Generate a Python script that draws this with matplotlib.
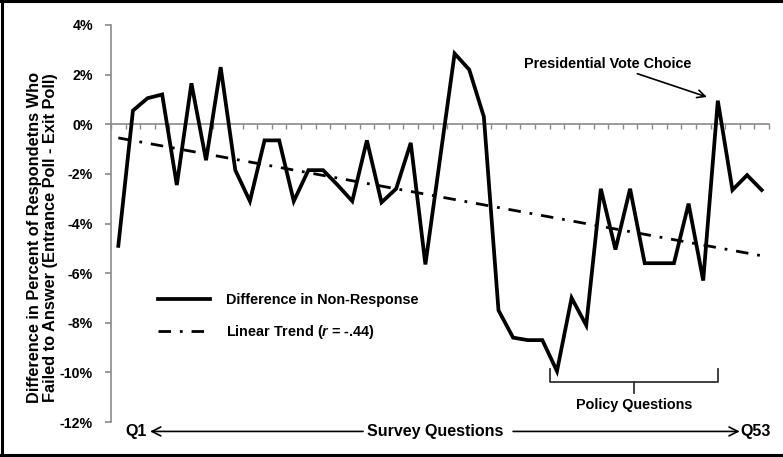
import matplotlib
matplotlib.use("Agg")
import matplotlib.pyplot as plt
from matplotlib.lines import Line2D
import numpy as np

# ---- DATA ----
# difference in non-response (entrance poll - exit poll), in percent, per survey question
nonresponse_diff = [
    -4.9, 0.55, 1.05, 1.2, -2.45, 1.65, -1.45, 2.3, -1.85, -3.1,
    -0.65, -0.65, -3.1, -1.85, -1.85, -2.45, -3.1, -0.65, -3.15, -2.6,
    -0.75, -5.65, -1.4, 2.85, 2.2, 0.3, -7.5, -8.6, -8.7, -8.7,
    -9.95, -7.0, -8.1, -2.6, -5.05, -2.6, -5.6, -5.6, -5.6, -3.2,
    -6.3, 0.95, -2.65, -2.05, -2.65,
]
trend_ends = [-0.55, -5.3]          # linear trend at first / last question
y_ticks = [-12, -10, -8, -6, -4, -2, 0, 2, 4]
policy_range = [29.5, 41.0]         # bracket span, in question index
vote_choice_idx = 41

plt.rcParams["font.family"] = ["Liberation Sans", "DejaVu Sans"]
plt.rcParams["font.weight"] = "bold"
plt.rcParams["mathtext.fontset"] = "custom"
plt.rcParams["mathtext.it"] = "Liberation Sans:italic:bold"
plt.rcParams["mathtext.rm"] = "Liberation Sans:bold"

GRAY = "#8a8a8a"
FS = 10.4

fig = plt.figure(figsize=(7.83, 4.57), dpi=100)
ax = fig.add_axes([111 / 783, 1 - 422 / 457, (769 - 111) / 783, (422 - 25) / 457])

n = len(nonresponse_diff)
x = np.arange(n)
ax.plot(x, nonresponse_diff, color="black", lw=2.7, solid_joinstyle="miter", zorder=3)
trend_dashes = (0, (4.5, 3.2, 1, 3.2))
ax.plot([0, n - 1], trend_ends, color="black", lw=2, linestyle=trend_dashes, zorder=2)

ax.set_xlim(-0.5, n - 0.5)
ax.set_ylim(-12, 4)

# category axis sits on the zero line
for s in ("top", "right"):
    ax.spines[s].set_visible(False)
ax.spines["bottom"].set_position(("data", 0))
ax.spines["bottom"].set_color(GRAY)
ax.spines["bottom"].set_linewidth(1.2)
ax.spines["left"].set_color(GRAY)
ax.spines["left"].set_linewidth(1.2)
ax.set_xticks(np.arange(n + 1) - 0.5)
ax.set_xticklabels([])
ax.tick_params(axis="x", direction="out", length=3.5, color=GRAY, width=1)

ax.set_yticks(y_ticks)
ax.set_yticklabels([f"{t}%" for t in y_ticks], fontsize=10.2, fontweight="bold")
ax.tick_params(axis="y", direction="out", length=4, color=GRAY, width=1.2, pad=9)

ax.set_ylabel("Difference in Percent of Respondetns Who\nFailed to Answer (Entrance Poll - Exit Poll)",
              fontsize=11.8, fontweight="bold", linespacing=1.05)
ax.yaxis.set_label_coords(-0.081, 0.465)

# legend
handles = [
    Line2D([], [], color="black", lw=2.7),
    Line2D([], [], color="black", lw=2, linestyle=trend_dashes),
]
labels = ["Difference in Non-Response", "Linear Trend ($\\mathit{r}$ = -.44)"]
ax.legend(handles, labels, loc="upper left", bbox_to_anchor=(0.072, 0.324),
          frameon=False, handlelength=3.6, handletextpad=1.1,
          labelspacing=1.1, borderpad=0, borderaxespad=0,
          prop={"weight": "bold", "size": FS})

# presidential vote choice callout
ax.annotate("Presidential Vote Choice", xy=(vote_choice_idx - 0.75, 1.1),
            xytext=(33.5, 2.15), fontsize=FS, fontweight="bold", ha="center", va="bottom",
            arrowprops=dict(arrowstyle="->", color="black", lw=1.2,
                            shrinkA=0, shrinkB=0, mutation_scale=14))

# policy questions bracket
p0, p1 = policy_range
pm = (p0 + p1) / 2
ax.plot([p0, p0, p1, p1], [-9.85, -10.4, -10.4, -9.85], color="#333333", lw=1.3,
        clip_on=False)
ax.plot([pm, pm], [-10.4, -10.85], color="#333333", lw=1.3, clip_on=False)
ax.text(pm, -11.3, "Policy Questions", fontsize=FS, fontweight="bold",
        ha="center", va="center")

# survey question direction arrows below the plot
yb = -12.38
FB = 11.5
ax.text(1.2, yb, "Q1", fontsize=FB, fontweight="bold", ha="center", va="center",
        clip_on=False)
ax.text(21.66, yb, "Survey Questions", fontsize=FB, fontweight="bold",
        ha="center", va="center", clip_on=False)
ax.text(43.6, yb, "Q53", fontsize=FB, fontweight="bold", ha="center", va="center",
        clip_on=False)
ax.annotate("", xy=(2.17, yb), xytext=(16.74, yb), annotation_clip=False,
            arrowprops=dict(arrowstyle="->", color="black", lw=1.2,
                            shrinkA=0, shrinkB=0, mutation_scale=16))
ax.annotate("", xy=(42.5, yb), xytext=(27.0, yb), annotation_clip=False,
            arrowprops=dict(arrowstyle="->", color="black", lw=1.2,
                            shrinkA=0, shrinkB=0, mutation_scale=16))

# outer frame
frame_kw = dict(color="black", lw=2.2, transform=fig.transFigure)
fig.add_artist(Line2D([0.003, 0.003], [0.0, 1.0], **frame_kw))
fig.add_artist(Line2D([0.0, 1.0], [0.997, 0.997], **frame_kw))
fig.add_artist(Line2D([0.0, 1.0], [1 - 455 / 457, 1 - 455 / 457], **frame_kw))

fig.savefig("out.png", dpi=100)
